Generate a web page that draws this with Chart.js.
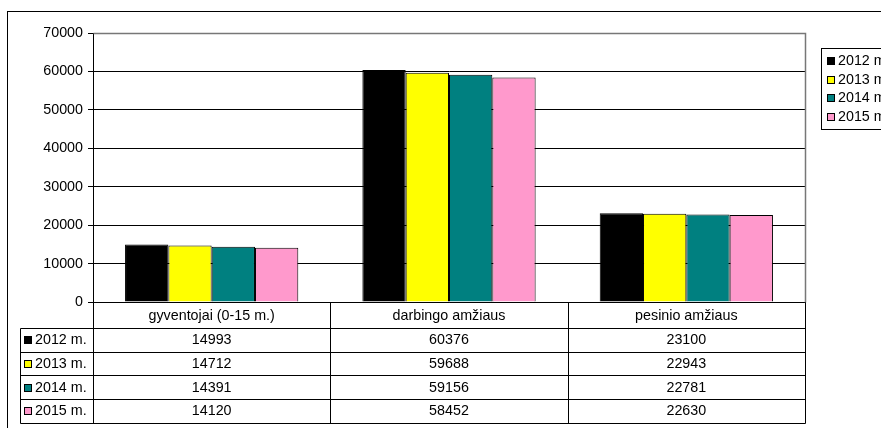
<!DOCTYPE html>
<html>
<head>
<meta charset="utf-8">
<script src="https://cdn.jsdelivr.net/npm/chart.js@4/dist/chart.umd.min.js"></script>
<style>
  html, body { margin: 0; padding: 0; background: #fff; }
  #wrap { width: 881px; height: 428px; position: relative; }
</style>
</head>
<body>
<div id="wrap"><canvas id="popChart" width="881" height="428"></canvas></div>
<script>
// ---- data ----
const categories = ['gyventojai (0-15 m.)', 'darbingo amžiaus', 'pesinio amžiaus'];
const yearLabels = ['2012 m.', '2013 m.', '2014 m.', '2015 m.'];
const values2012 = [14993, 60376, 23100];
const values2013 = [14712, 59688, 22943];
const values2014 = [14391, 59156, 22781];
const values2015 = [14120, 58452, 22630];
const yMax = 70000;
const yStep = 10000;

const colors = ['#000000', '#ffff00', '#008080', '#ff99cc'];
const FAMILY = '"Liberation Sans", Arial, sans-serif';
const FONT = '14.3px ' + FAMILY;

// frame, plot border, data table and legend box (Excel style)
const excelBits = {
    id: 'excelBits',
    beforeDraw(chart) {
        const ctx = chart.ctx;
        ctx.save();
        ctx.fillStyle = '#fff';
        ctx.fillRect(0, 0, chart.width, chart.height);
        ctx.strokeStyle = '#000';
        ctx.lineWidth = 1;
        ctx.strokeRect(7.5, 11.5, 1000, 1000);   // outer frame runs off the picture
        ctx.restore();
    },
    afterDraw(chart) {
        const ctx = chart.ctx;
        const area = chart.chartArea;
        const xs = chart.scales.x;
        ctx.save();

        // grey plot area border top + right
        ctx.strokeStyle = '#777';
        ctx.lineWidth = 1.5;
        ctx.beginPath();
        ctx.moveTo(Math.round(area.left) + 0.5, Math.round(area.top) + 0.5);
        ctx.lineTo(Math.round(area.right) + 0.5, Math.round(area.top) + 0.5);
        ctx.lineTo(Math.round(area.right) + 0.5, Math.round(area.bottom) + 0.5);
        ctx.stroke();

        // column edges from the category scale
        const edges = [area.left];
        for (let i = 0; i < categories.length - 1; i++) {
            edges.push((xs.getPixelForValue(i) + xs.getPixelForValue(i + 1)) / 2);
        }
        edges.push(area.right);

        const headH = 26;
        const rowH = 23.7;
        const tableTop = area.bottom + headH;
        const tableBottom = tableTop + rowH * yearLabels.length;
        const keyLeft = 20;
        const r = v => Math.round(v) + 0.5;

        ctx.strokeStyle = '#000';
        ctx.lineWidth = 1;
        ctx.beginPath();
        // vertical lines
        edges.forEach(x => { ctx.moveTo(r(x), r(area.bottom)); ctx.lineTo(r(x), r(tableBottom)); });
        ctx.moveTo(r(keyLeft), r(tableTop)); ctx.lineTo(r(keyLeft), r(tableBottom));
        // horizontal lines
        for (let k = 0; k <= yearLabels.length; k++) {
            const y = r(tableTop + k * rowH);
            ctx.moveTo(r(keyLeft), y); ctx.lineTo(r(area.right), y);
        }
        ctx.stroke();

        ctx.font = FONT;
        ctx.textBaseline = 'middle';
        chart.data.datasets.forEach((ds, k) => {
            const cy = tableTop + k * rowH + rowH / 2 + 0.5;
            // key square
            ctx.fillStyle = ds.backgroundColor;
            ctx.fillRect(24, Math.round(cy) - 4, 7, 7);
            ctx.strokeStyle = '#000';
            ctx.strokeRect(24.5, Math.round(cy) - 3.5, 7, 7);
            ctx.fillStyle = '#000';
            ctx.textAlign = 'left';
            ctx.fillText(ds.label, 35, cy);
            ctx.textAlign = 'center';
            ds.data.forEach((v, i) => {
                ctx.fillText(String(v), (edges[i] + edges[i + 1]) / 2, cy);
            });
        });

        // legend box on the right
        const lx = 821, ly = 48, lh = 81;
        ctx.strokeStyle = '#000';
        ctx.strokeRect(lx + 0.5, ly + 0.5, 200, lh);
        ctx.textAlign = 'left';
        chart.data.datasets.forEach((ds, k) => {
            const cy = ly + 13 + k * 18.5;
            ctx.fillStyle = ds.backgroundColor;
            ctx.fillRect(827, Math.round(cy) - 4, 7, 7);
            ctx.strokeRect(827.5, Math.round(cy) - 3.5, 7, 7);
            ctx.fillStyle = '#000';
            ctx.fillText(ds.label, 838, cy + 0.5);
        });
        ctx.restore();
    }
};

const allValues = [values2012, values2013, values2014, values2015];

new Chart(document.getElementById('popChart'), {
    type: 'bar',
    data: {
        labels: categories,
        datasets: yearLabels.map((lab, k) => ({
            label: lab,
            data: allValues[k],
            backgroundColor: colors[k],
            borderColor: '#000',
            borderWidth: 1,
            categoryPercentage: 0.73,
            barPercentage: 1
        }))
    },
    options: {
        responsive: false,
        animation: false,
        layout: { padding: { left: 0, top: 33, right: 76, bottom: 0 } },
        plugins: { legend: { display: false }, tooltip: { enabled: false } },
        scales: {
            x: {
                grid: { display: false, drawTicks: false },
                border: { display: true, color: '#000', width: 1 },
                ticks: { color: '#000', font: { family: FAMILY, size: 14.3 }, padding: 5, maxRotation: 0 },
                afterFit(scale) { scale.height = 126; }
            },
            y: {
                min: 0,
                max: yMax,
                grid: { color: '#000', lineWidth: 1, tickLength: 5, tickColor: '#000' },
                border: { display: true, color: '#000', width: 1 },
                ticks: {
                    stepSize: yStep, color: '#000', font: { family: FAMILY, size: 14.3 }, padding: 5,
                    callback: v => String(v)
                },
                afterFit(scale) { scale.width = 93; }
            }
        }
    },
    plugins: [excelBits]
});
</script>
</body>
</html>
